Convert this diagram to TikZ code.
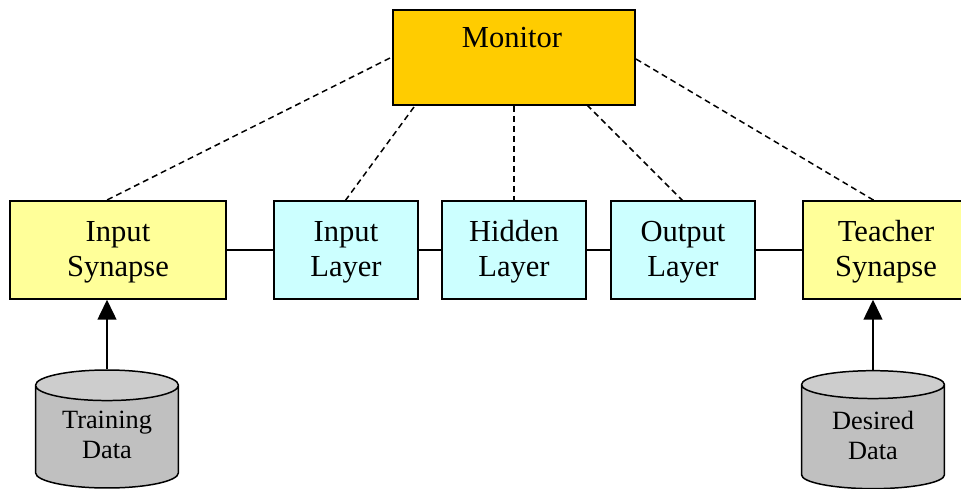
\documentclass[tikz,border=0pt]{standalone}
\usepackage{fontspec}
\setmainfont{Liberation Serif}
\usetikzlibrary{shapes.geometric,arrows.meta}
\definecolor{monitorfill}{HTML}{FFCC00}
\definecolor{synapsefill}{HTML}{FFFF99}
\definecolor{layerfill}{HTML}{CCFFFF}
\definecolor{storefill}{HTML}{C0C0C0}
\definecolor{storetop}{HTML}{CDCDCD}
\begin{document}
\begin{tikzpicture}[x=0.02cm,y=0.02cm]
\tikzstyle{every node}+=[inner sep=0pt, align=center, font=\fontsize{17.4}{19.9}\selectfont]
\tikzstyle{box}=[draw=black, line width=0.85pt, minimum height=1.96cm, text depth=0.05cm]
\tikzstyle{synapse}=[box, fill=synapsefill, minimum width=4.32cm]
\tikzstyle{layer}=[box, fill=layerfill, minimum width=2.88cm]
\tikzstyle{store}=[draw=black, line width=0.85pt, cylinder, shape border rotate=90, aspect=0.34, minimum width=2.86cm, minimum height=2.36cm, cylinder uses custom fill, cylinder body fill=storefill, cylinder end fill=storetop, text depth=0.08cm, font=\fontsize{15}{17}\selectfont]
\tikzstyle{link}=[black, line width=0.85pt]
\tikzstyle{monitorline}=[black, line width=0.85pt, dash pattern=on 3.4pt off 2.3pt]
\useasboundingbox (0,0) rectangle (961,-488);
\node [box, fill=monitorfill, minimum width=4.84cm, minimum height=1.9cm, text height=0.4cm, text depth=0.82cm] (monitor) at (514,-57.5) {Monitor\hspace*{0.08cm}};
\node [synapse] (input) at (118,-250) {Input\\Synapse};
\node [layer] (inputlayer) at (346,-250) {Input\\Layer};
\node [layer] (hidden) at (514,-250) {Hidden\\Layer};
\node [layer] (output) at (683,-250) {Output\\Layer};
\node [synapse, minimum width=3.32cm] (teacher) at (886,-250) {Teacher\\Synapse};
\node [store] (training) at (107,-437) {Training\\Data};
\node [store] (desired) at (873,-437) {Desired\\Data};
\coordinate (m1) at (390,-58);
\coordinate (m2) at (414,-107);
\coordinate (m4) at (587,-105);
\coordinate (m5) at (636,-59);
\coordinate (s1) at (105,-201);
\coordinate (s2) at (345,-201);
\coordinate (s4) at (683,-201);
\coordinate (s5) at (875,-201);
\draw [link] (input) -- (inputlayer);
\draw [link] (inputlayer) -- (hidden);
\draw [link] (hidden) -- (output);
\draw [link] (output) -- (teacher);
\draw [monitorline] (m1) -- (s1);
\draw [monitorline] (m2) -- (s2);
\draw [monitorline] (monitor.south) -- (hidden.north);
\draw [monitorline] (m4) -- (s4);
\draw [monitorline] (m5) -- (s5);
\draw [link, -{Triangle[length=0.4cm,width=0.38cm]}] (training.north) -- (input.south -| training.north);
\draw [link, -{Triangle[length=0.4cm,width=0.38cm]}] (desired.north) -- (teacher.south -| desired.north);
\end{tikzpicture}
\end{document}
